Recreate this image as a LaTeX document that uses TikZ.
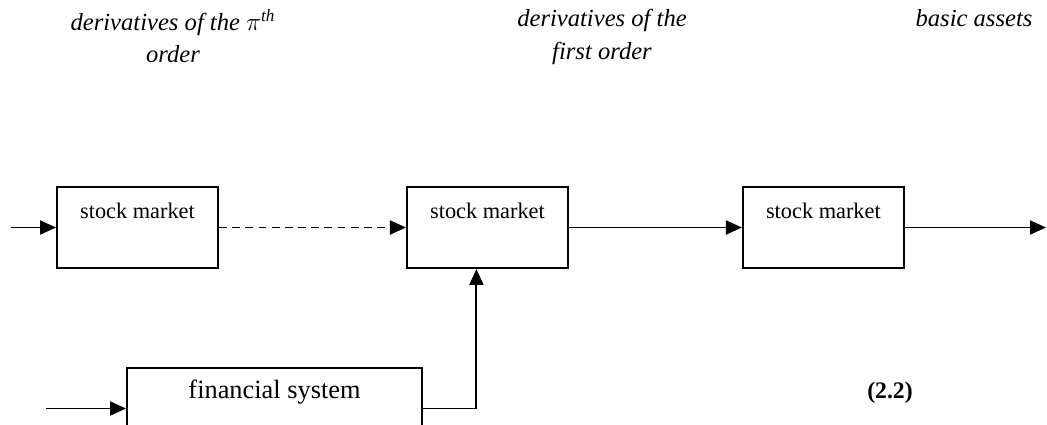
\documentclass[tikz,border=0pt]{standalone}
\usepackage{fontspec}
\setmainfont{Liberation Serif}
\usetikzlibrary{arrows.meta,positioning}

\begin{document}
\begin{tikzpicture}[line width=1.1pt,
		>={Triangle[length=0.32cm,width=0.28cm]},
		market/.style={draw,minimum width=3.22cm,minimum height=1.62cm,
			label={[label distance=-0.79cm,font=\fontsize{12.7}{14}\selectfont]north:stock market}},
		system/.style={draw,minimum width=5.9cm,minimum height=1.62cm,
			label={[label distance=-0.88cm,font=\fontsize{15}{17}\selectfont]north:financial system}},
		heading/.style={anchor=north,align=center,font=\fontsize{14}{18.5}\selectfont\itshape}]
		\useasboundingbox (0,0) rectangle (20.94,-8.48);
		\clip (0,0) rectangle (20.94,-8.48);
		% headings over the three markets
		\node[heading] (h1) at (3.46,-0.05) {derivatives of the $\pi$\textsuperscript{th} \\ order};
		\node[heading] (h2) at (12.04,-0.05) {derivatives of the \\ first order};
		\node[heading] (h3) at (19.48,-0.05) {basic assets};
		% the chain of stock markets
		\node[market] (b1) at (2.75,-4.55) {};
		\node[market, right=3.74cm of b1] (b2) {};
		\node[market, right=3.46cm of b2] (b3) {};
		\node[system] (fs) at (5.49,-8.17) {};
		\node[font=\fontsize{13.5}{15}\selectfont\bfseries] (eq) at (17.8,-7.86) {(2.2)}; % equation number
		\coordinate (in1) at (0.22,-4.55);
		\coordinate (out3) at (20.92,-4.55);
		\coordinate (in2) at (0.92,-8.17);
		% connectors
		\draw[->] (in1) -- (b1);
		\draw[->,dash pattern=on 4.5pt off 3pt] (b1) -- (b2);
		\draw[->] (b2) -- (b3);
		\draw[->] (b3) -- (out3);
		\draw[->] (in2) -- (fs);
		\draw[->] (fs.east) -| ([xshift=-0.22cm]b2.south);
	\end{tikzpicture}
\end{document}
